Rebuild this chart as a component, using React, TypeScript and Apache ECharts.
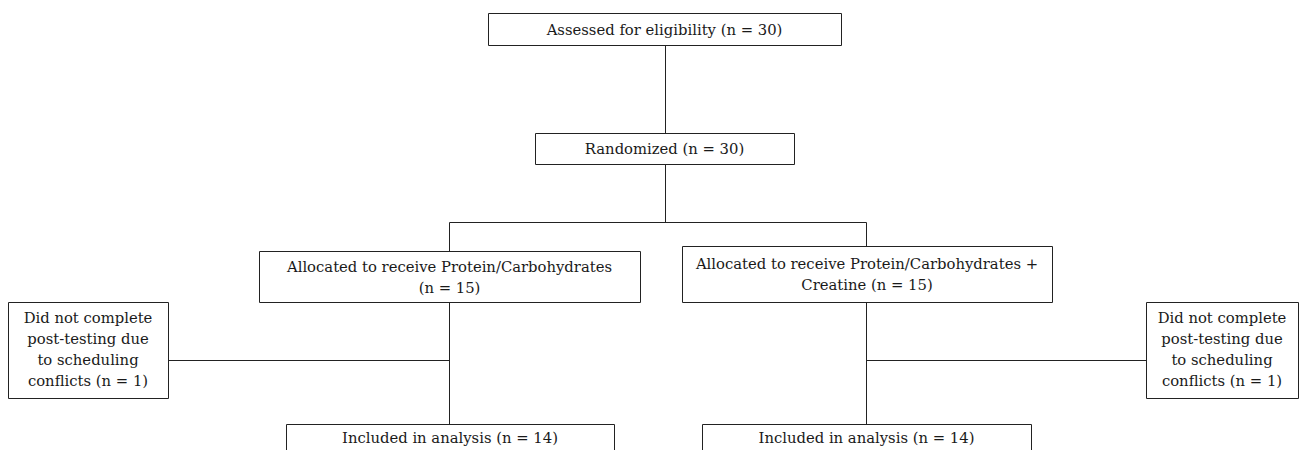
import React, { useEffect, useRef } from "react";
import * as echarts from "echarts";

// Flowchart content (CONSORT diagram)
const boxLabels: string[] = [
  "Assessed for eligibility (n = 30)",
  "Randomized (n = 30)",
  "Allocated to receive Protein/Carbohydrates\n(n = 15)",
  "Allocated to receive Protein/Carbohydrates +\nCreatine (n = 15)",
  "Did not complete\npost-testing due\nto scheduling\nconflicts (n = 1)",
  "Did not complete\npost-testing due\nto scheduling\nconflicts (n = 1)",
  "Included in analysis (n = 14)",
  "Included in analysis (n = 14)",
];

// Layout of each box: [x, y, width, height]
const boxRects: number[][] = [
  [488, 13, 353, 32],
  [535, 133, 259, 31],
  [259, 251, 381, 51],
  [682, 246, 370, 56],
  [8, 302, 160, 96],
  [1146, 302, 152, 96],
  [286, 424, 328, 40],
  [702, 424, 329, 40],
];

// Text centre y offset within the box (for boxes cut off at the bottom)
const textCenterY: (number | null)[] = [null, null, null, null, 349, 349, 437, 437];

// Connector polylines
const connectors: number[][][] = [
  [[665, 45], [665, 133]],
  [[665, 164], [665, 222]],
  [[449, 222], [866, 222]],
  [[449, 222], [449, 251]],
  [[866, 222], [866, 246]],
  [[449, 302], [449, 424]],
  [[866, 302], [866, 424]],
  [[168, 360], [449, 360]],
  [[866, 360], [1146, 360]],
];

const FONT_FAMILY = "'DejaVu Serif', serif";
const FONT_SIZE = 14.8;
const LINE_HEIGHT = 21;
const STROKE = "#222222";

export default function App() {
  const ref = useRef<HTMLDivElement>(null);

  useEffect(() => {
    document.body.style.margin = "0";
    if (!ref.current) return;
    const chart = echarts.init(ref.current, undefined, { renderer: "svg" });

    const elements: any[] = [];
    connectors.forEach((pts) => {
      elements.push({
        type: "polyline",
        shape: { points: pts.map(([x, y]) => [x + 0.5, y + 0.5]) },
        style: { stroke: STROKE, lineWidth: 1, fill: null },
        z: 1,
      });
    });
    boxRects.forEach(([x, y, w, h], i) => {
      elements.push({
        type: "rect",
        shape: { x: x + 0.5, y: y + 0.5, width: w, height: h },
        style: { fill: "#ffffff", stroke: STROKE, lineWidth: 1 },
        z: 2,
      });
      const cy = textCenterY[i] != null ? (textCenterY[i] as number) : y + h / 2;
      elements.push({
        type: "text",
        x: x + w / 2,
        y: cy,
        style: {
          text: boxLabels[i],
          fill: "#1a1a1a",
          fontSize: FONT_SIZE,
          fontFamily: FONT_FAMILY,
          align: "center",
          verticalAlign: "middle",
          lineHeight: LINE_HEIGHT,
        },
        z: 3,
      });
    });

    chart.setOption({
      animation: false,
      backgroundColor: "#ffffff",
      graphic: { elements },
    });

    return () => chart.dispose();
  }, []);

  return <div ref={ref} style={{ width: 1306, height: 450 }} />;
}
